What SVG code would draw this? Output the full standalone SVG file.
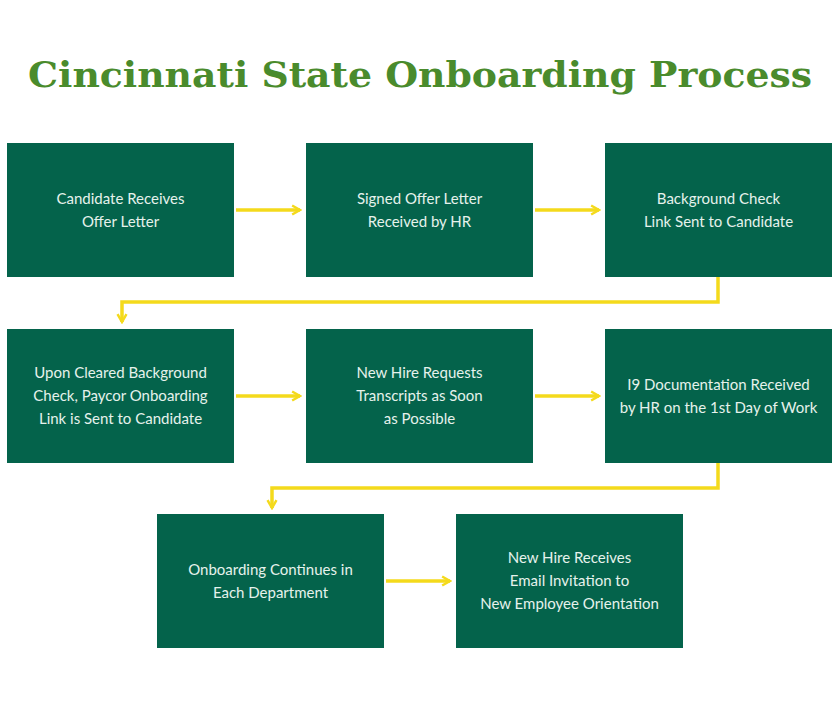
<svg xmlns="http://www.w3.org/2000/svg" width="840" height="704" viewBox="0 0 840 704">
<style>
.box{fill:#04634b}
.t{font-family:Lato,"Liberation Sans",sans-serif;font-size:15px;fill:#e6f2ec;text-anchor:middle}
.c{fill:none;stroke:#f4da1c;stroke-width:3.5}
.title{font-family:"DejaVu Serif",serif;font-weight:bold;font-size:36px;fill:#4a8b2c;text-anchor:middle}
</style>
<defs><marker id="a" viewBox="0 0 10 10" refX="8" refY="5" markerWidth="3.2" markerHeight="3.2" orient="auto"><path d="M1,1 L8,5 L1,9" fill="none" stroke="#f4da1c" stroke-width="2.2"/></marker></defs>
<rect width="840" height="704" fill="#fff"/>
<text class="title" x="420" y="87" textLength="784" lengthAdjust="spacingAndGlyphs">Cincinnati State Onboarding Process</text>
<g id="connectors">
<path class="c" d="M236,210 H300" marker-end="url(#a)"/>
<path class="c" d="M535,210 H599" marker-end="url(#a)"/>
<path class="c" d="M718,277 V302 H122 V322" marker-end="url(#a)"/>
<path class="c" d="M236,396 H300" marker-end="url(#a)"/>
<path class="c" d="M535,396 H599" marker-end="url(#a)"/>
<path class="c" d="M718,463 V488 H272 V508" marker-end="url(#a)"/>
<path class="c" d="M386,581 H450" marker-end="url(#a)"/>
</g>
<g id="n1"><rect class="box" x="7" y="143" width="227" height="134"/><text class="t" x="120.5" y="204">Candidate Receives</text><text class="t" x="120.5" y="227">Offer Letter</text></g>
<g id="n2"><rect class="box" x="306" y="143" width="227" height="134"/><text class="t" x="419.5" y="204">Signed Offer Letter</text><text class="t" x="419.5" y="227">Received by HR</text></g>
<g id="n3"><rect class="box" x="605" y="143" width="227" height="134"/><text class="t" x="718.5" y="204">Background Check</text><text class="t" x="718.5" y="227">Link Sent to Candidate</text></g>
<g id="n4"><rect class="box" x="7" y="329" width="227" height="134"/><text class="t" x="120.5" y="378">Upon Cleared Background</text><text class="t" x="120.5" y="401">Check, Paycor Onboarding</text><text class="t" x="120.5" y="424">Link is Sent to Candidate</text></g>
<g id="n5"><rect class="box" x="306" y="329" width="227" height="134"/><text class="t" x="419.5" y="378">New Hire Requests</text><text class="t" x="419.5" y="401">Transcripts as Soon</text><text class="t" x="419.5" y="424">as Possible</text></g>
<g id="n6"><rect class="box" x="605" y="329" width="227" height="134"/><text class="t" x="718.5" y="390">I9 Documentation Received</text><text class="t" x="718.5" y="413">by HR on the 1st Day of Work</text></g>
<g id="n7"><rect class="box" x="157" y="514" width="227" height="134"/><text class="t" x="270.5" y="575">Onboarding Continues in</text><text class="t" x="270.5" y="598">Each Department</text></g>
<g id="n8"><rect class="box" x="456" y="514" width="227" height="134"/><text class="t" x="569.5" y="563">New Hire Receives</text><text class="t" x="569.5" y="586">Email Invitation to</text><text class="t" x="569.5" y="609">New Employee Orientation</text></g>
</svg>
